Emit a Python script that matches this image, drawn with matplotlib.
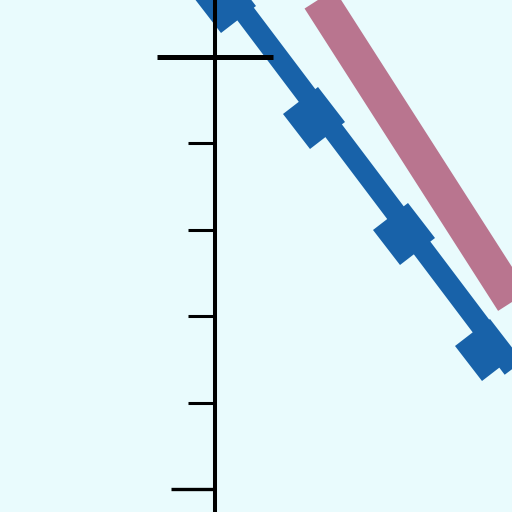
import matplotlib
matplotlib.use('Agg')
import matplotlib.pyplot as plt
from matplotlib.markers import MarkerStyle
from matplotlib.transforms import Affine2D

# data (y axis ticks 0..5)
points_x = [0.12, 1.15, 2.19, 3.14]
points_y = [5.64, 4.29, 2.95, 1.61]
fit_x = [-0.5, 3.8]
fit_y = [6.63, 0.93]
upper_x = [0.5, 4.5]
upper_y = [6.78, 0.53]
ytick_major = [0, 5]
ytick_minor = [1, 2, 3, 4]

bg = '#e9fbfd'
blue = '#1862a9'
pink = '#b9758f'

fig = plt.figure(figsize=(5.12, 5.12), dpi=100)
fig.patch.set_facecolor(bg)
ax = fig.add_axes([0, 0, 1, 1])
ax.set_facecolor(bg)

ax.plot(upper_x, upper_y, color=pink, lw=25.5, solid_capstyle='butt')
ax.plot(fit_x, fit_y, color=blue, lw=15, solid_capstyle='butt')
sq = MarkerStyle('s', transform=Affine2D().rotate_deg(37))
ax.plot(points_x, points_y, ls='none', marker=sq, ms=32, color=blue, mew=0)

ax.set_xlim(-2.488, 3.4375)
ax.set_ylim(-0.266, 5.66)

for s in ['top', 'right', 'bottom']:
    ax.spines[s].set_visible(False)
ax.spines['left'].set_position(('data', 0))
ax.spines['left'].set_linewidth(2.9)
ax.set_axisbelow(False)

ax.set_xticks([])
ax.set_yticks(ytick_major)
ax.set_yticks(ytick_minor, minor=True)
ax.set_yticklabels([])
ax.tick_params(axis='y', which='major', direction='out', length=32, width=2.4)
ax.tick_params(axis='y', which='minor', direction='out', length=19.5, width=2.2)

# the tick at 5 crosses the axis
t5 = ax.yaxis.get_major_ticks()[1]
t5.tick1line.set_marker('_')
t5.tick1line.set_markersize(84)
t5.tick1line.set_markeredgewidth(3.6)

fig.savefig('out.png', dpi=100, facecolor=bg)
